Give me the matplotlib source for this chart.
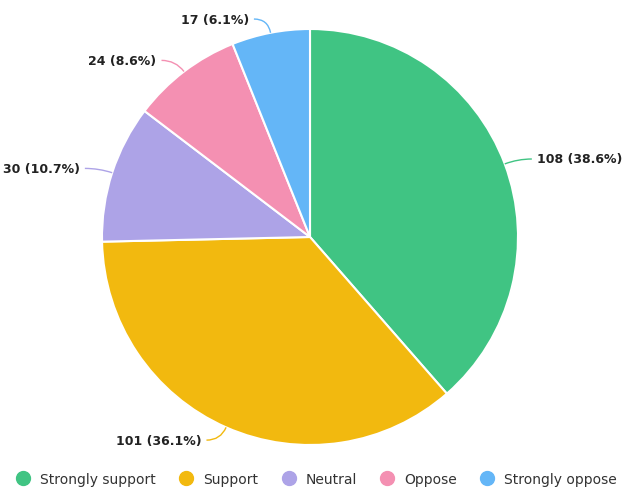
import numpy as np
import matplotlib
matplotlib.use("Agg")
import matplotlib.pyplot as plt
from matplotlib.lines import Line2D
from matplotlib.path import Path
import matplotlib.patches as mpatches

# ── DATOS ─────────────────────────────────────────────────────────────────────
categorias = ["Strongly support", "Support", "Neutral", "Oppose", "Strongly oppose"]
valores    = [108, 101, 30, 24, 17]
porcentajes = ["38.6%", "36.1%", "10.7%", "8.6%", "6.1%"]
colores    = ["#40C483", "#F2B90F", "#ADA3E7", "#F490B2", "#64B6F7"]

W, H = 626, 489
cx, cy, R = 310, H - 238, 208

fig = plt.figure(figsize=(W / 100, H / 100), dpi=100)
ax = fig.add_axes([0, 0, 1, 1])

wedges, _ = ax.pie(valores, colors=colores, startangle=90, counterclock=False,
                   radius=R, center=(cx, cy),
                   wedgeprops=dict(edgecolor="white", linewidth=1.5))

# pie() fija sus propios límites, los reponemos en píxeles
ax.set_xlim(0, W)
ax.set_ylim(0, H)
ax.set_aspect("equal")
ax.axis("off")

# ── ETIQUETAS CON CONECTOR CURVO ──────────────────────────────────────────────
for w, v, p, c in zip(wedges, valores, porcentajes, colores):
    ang = np.deg2rad((w.theta1 + w.theta2) / 2)
    dx, dy = np.cos(ang), np.sin(ang)
    lado = 1 if dx >= 0 else -1
    p0 = (cx + R * dx, cy + R * dy)
    p1 = (cx + (R + 14) * dx, cy + (R + 14) * dy)
    p2 = (p1[0] + lado * 14, p1[1])
    ruta = Path([p0, p1, p2], [Path.MOVETO, Path.CURVE3, Path.CURVE3])
    ax.add_patch(mpatches.PathPatch(ruta, fill=False, edgecolor=c, linewidth=1))
    ax.text(p2[0] + lado * 5, p2[1], f"{v} ({p})",
            ha="left" if lado > 0 else "right", va="center",
            fontsize=9, fontweight="bold", color="#222222")

# ── LEYENDA ───────────────────────────────────────────────────────────────────
handles = [Line2D([0], [0], marker="o", linestyle="none", markersize=10,
                  markerfacecolor=c, markeredgecolor=c, label=n)
           for n, c in zip(categorias, colores)]
fig.legend(handles=handles, loc="lower center", ncol=5, frameon=False,
           bbox_to_anchor=(0.5, -0.022), fontsize=10, handletextpad=0.2,
           columnspacing=1.2, labelcolor="#333333")

plt.savefig("out.png", dpi=100)
